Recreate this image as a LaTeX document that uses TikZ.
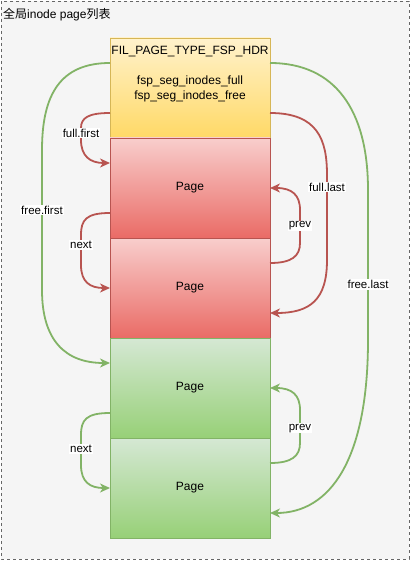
\documentclass[tikz,border=0pt]{standalone}
\usepackage{fontspec}
\setmainfont{Liberation Sans}
\newfontfamily\cjk{Noto Sans CJK SC}
\usetikzlibrary{arrows.meta}
\definecolor{bgfill}{HTML}{F5F5F5}
\definecolor{bgline}{HTML}{666666}
\definecolor{ytop}{HTML}{FFF2CC}
\definecolor{ybot}{HTML}{FFD966}
\definecolor{yline}{HTML}{D6B656}
\definecolor{rtop}{HTML}{F8CECC}
\definecolor{rbot}{HTML}{EA6B66}
\definecolor{rline}{HTML}{B85450}
\definecolor{gtop}{HTML}{D5E8D4}
\definecolor{gbot}{HTML}{97D077}
\definecolor{gline}{HTML}{82B366}
\begin{document}
\begin{tikzpicture}[x=1pt,y=-1pt,
  box/.style={minimum width=160pt,minimum height=100pt,inner sep=0pt,outer sep=0pt,line width=0.8pt,font=\fontsize{12}{14}\selectfont},
  hdrbox/.style={box,draw=yline,top color=ytop,bottom color=ybot},
  redbox/.style={box,draw=rline,top color=rtop,bottom color=rbot},
  grnbox/.style={box,draw=gline,top color=gtop,bottom color=gbot},
  txt/.style={inner sep=0pt,font=\fontsize{12}{15}\selectfont,align=center},
  lbl/.style={fill=white,inner sep=1pt,font=\fontsize{11.5}{13}\selectfont,text=black},
  conn/.style={line width=1.8pt,-{Stealth[length=10pt,width=9pt,inset=3pt]}},
  redc/.style={conn,draw=rline},
  grnc/.style={conn,draw=gline}]
\useasboundingbox (0,0) rectangle (411,561);
\draw[dashed,draw=bgline,fill=bgfill,line width=0.8pt] (1,1) rectangle (409,559);
\node[anchor=west,inner sep=0pt,font=\fontsize{12}{14}\selectfont] (title) at (3,15) {{\cjk 全局}inode page{\cjk 列表}};

\node[hdrbox] (hdr) at (190,88) {};
\node[redbox] (p1) at (190,188) {Page};
\node[redbox] (p2) at (190,288) {Page};
\node[grnbox] (g1) at (190,388) {Page};
\node[grnbox] (g2) at (190,488) {Page};
\node[txt] (t1) at (190,52) {FIL\_PAGE\_TYPE\_FSP\_HDR};
\node[txt] (t2) at (190,88.5) {fsp\_seg\_inodes\_full\\fsp\_seg\_inodes\_free};

% full.first
\draw[redc] ([yshift=25pt]hdr.south west) .. controls (88,113) and (81,118) .. (81,128)
  -- node[lbl,pos=0.42]{full.first} (81,140) .. controls (81,156) and (90,163) .. ([yshift=25pt]p1.west);
% red next
\draw[redc] ([yshift=-25pt]p1.west) .. controls (86,213) and (81,220) .. (81,235)
  -- node[lbl,pos=0.33]{next} (81,265) .. controls (81,282) and (90,288) .. (p2.west);
% red prev
\draw[redc] ([yshift=25pt]p2.east) .. controls (292,263) and (300,256) .. (300,243)
  -- node[lbl,pos=0.52]{prev} (300,210) .. controls (300,195) and (292,188) .. (p1.east);
% full.last
\draw[redc] ([yshift=25pt]hdr.south east) .. controls (318,113) and (327,140) .. (327,175)
  -- node[lbl,pos=0.14]{full.last} (327,260) .. controls (327,300) and (310,313) .. ([yshift=-25pt]p2.east);
% green next
\draw[grnc] ([yshift=-25pt]g1.west) .. controls (86,413) and (81,420) .. (81,435)
  -- node[lbl,pos=0.47]{next} (81,465) .. controls (81,482) and (90,488) .. (g2.west);
% green prev
\draw[grnc] ([yshift=25pt]g2.east) .. controls (292,463) and (300,456) .. (300,443)
  -- node[lbl,pos=0.45]{prev} (300,410) .. controls (300,395) and (292,388) .. (g1.east);
% free.first
\draw[grnc] ([yshift=-25pt]hdr.north west) .. controls (60,63) and (42,95) .. (42,150)
  -- node[lbl,pos=0.43]{free.first} (42,290) .. controls (42,340) and (65,363) .. ([yshift=25pt]g1.west);
% free.last
\draw[grnc] ([yshift=-25pt]hdr.north east) .. controls (335,63) and (368,110) .. (368,190)
  -- node[lbl,pos=0.63]{free.last} (368,340) .. controls (368,460) and (330,513) .. ([yshift=-25pt]g2.east);
\end{tikzpicture}
\end{document}
